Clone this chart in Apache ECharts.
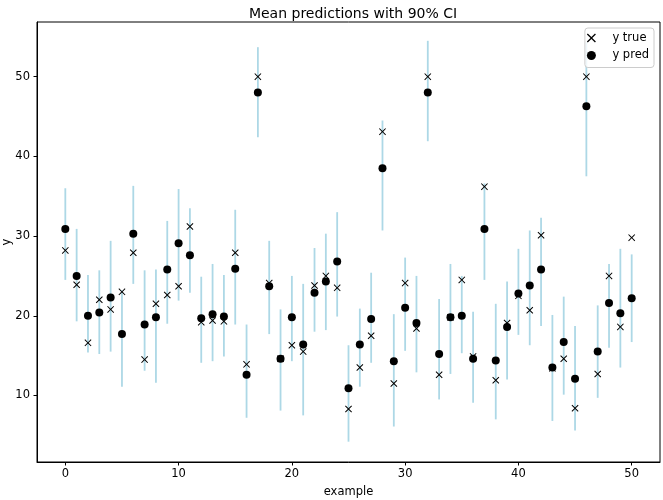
<!DOCTYPE html>
<html>
<head>
<meta charset="utf-8">
<script src="https://cdn.jsdelivr.net/npm/echarts@6/dist/echarts.min.js"></script>
<style>html,body{margin:0;padding:0;background:#fff}#c{width:663px;height:500px}</style>
</head>
<body>
<div id="c"></div>
<script>
const examples = Array.from({length: 51}, (_, i) => i);
const yTrue = [28.2,23.9,16.6,22.0,20.8,23.0,27.9,14.5,21.5,22.6,23.7,31.2,19.2,19.4,19.3,27.9,13.9,50.0,24.1,14.6,16.3,15.5,23.8,25.0,23.5,8.3,13.5,17.5,43.1,11.5,24.1,18.4,50.0,12.6,19.8,24.5,14.9,36.2,11.9,19.1,22.5,20.7,30.1,13.4,14.6,8.4,50.0,12.7,25.0,18.6,29.8];
const yPred = [30.9,25.0,20.0,20.4,22.3,17.7,30.3,18.9,19.8,25.8,29.1,27.6,19.7,20.2,19.9,25.9,12.6,48.0,23.7,14.6,19.8,16.4,22.9,24.3,26.8,10.9,16.4,19.6,38.5,14.3,21.0,19.1,48.0,15.2,19.8,20.0,14.6,30.9,14.4,18.6,22.8,23.8,25.8,13.5,16.7,12.1,46.3,15.5,21.6,20.3,22.2];
const ciLower = [24.5,19.3,15.4,15.2,15.5,11.1,24.0,13.1,11.6,19.0,21.9,22.9,14.1,14.3,14.9,18.9,7.2,42.4,17.7,8.1,14.3,7.5,18.0,18.2,19.9,4.2,11.1,14.1,30.7,6.1,15.6,12.9,41.9,9.5,12.7,15.3,9.1,24.5,7.0,12.0,17.6,16.3,18.7,6.8,10.1,5.6,37.5,9.7,16.0,13.5,16.7];
const ciUpper = [36.0,30.9,25.1,25.7,29.4,23.2,36.3,25.7,25.8,31.9,35.9,33.5,24.9,26.5,25.1,33.3,18.9,53.7,29.4,20.8,25.0,24.0,28.5,30.3,33.0,16.3,20.9,25.4,44.5,20.2,27.3,25.0,54.5,22.1,26.5,25.0,20.5,36.6,21.5,24.3,28.4,30.7,32.3,20.1,22.4,18.7,54.3,21.3,26.5,28.4,27.7];
const xTicks = [0,10,20,30,40,50];
const yTicks = [10,20,30,40,50];

const X_PATH = 'path://M1,0 L5,4 L9,0 L10,1 L6,5 L10,9 L9,10 L5,6 L1,10 L0,9 L4,5 L0,1 Z';
const FONT = 'DejaVu Sans';

const chart = echarts.init(document.getElementById('c'), null, {renderer: 'canvas'});
chart.setOption({
  animation: false,
  backgroundColor: '#fff',
  title: {
    text: 'Mean predictions with 90% CI',
    left: 348, textAlign: 'center', top: 2,
    textStyle: {fontFamily: FONT, fontSize: 14, fontWeight: 'normal', color: '#000'}
  },
  legend: {
    orient: 'vertical', right: 9, top: 28,
    padding: [3, 5, 5, 2], itemGap: 3.5, itemWidth: 26, itemHeight: 9,
    backgroundColor: 'rgba(255,255,255,0.8)', borderColor: '#cccccc', borderWidth: 1, borderRadius: 3,
    textStyle: {fontFamily: FONT, fontSize: 11.5, color: '#000', lineHeight: 14, padding: [0, 0, 0, 3]},
    data: [{name: 'y true', icon: X_PATH}, {name: 'y pred', icon: 'circle'}]
  },
  grid: {left: 37, right: 3, top: 22, bottom: 38, outerBoundsMode: 'none', containLabel: false,
         show: true, borderColor: '#000', borderWidth: 1, backgroundColor: 'transparent'},
  xAxis: {
    type: 'value', min: -2.5, max: 52.5,
    name: 'example', nameLocation: 'middle', nameGap: 24, nameMoveOverlap: false,
    nameTextStyle: {fontFamily: FONT, fontSize: 11.5, color: '#000'},
    axisLine: {show: true, onZero: false, lineStyle: {color: '#000', width: 1}},
    axisTick: {show: true, inside: false, length: 3.5, customValues: xTicks, lineStyle: {color: '#000'}},
    axisLabel: {customValues: xTicks, fontFamily: FONT, fontSize: 11.5, color: '#000', margin: 6},
    splitLine: {show: false}
  },
  yAxis: {
    type: 'value', min: 1.65, max: 56.86,
    name: 'y', nameLocation: 'middle', nameGap: 24, nameMoveOverlap: false,
    nameTextStyle: {fontFamily: FONT, fontSize: 11.5, color: '#000'},
    axisLine: {show: true, onZero: false, lineStyle: {color: '#000', width: 1}},
    axisTick: {show: true, inside: false, length: 3.5, customValues: yTicks, lineStyle: {color: '#000'}},
    axisLabel: {customValues: yTicks, fontFamily: FONT, fontSize: 11.5, color: '#000', margin: 7},
    splitLine: {show: false}
  },
  series: [
    {
      name: 'CI', type: 'custom', z: 2,
      data: examples.map((x, i) => [x, ciLower[i], ciUpper[i]]),
      encode: {x: 0, y: [1, 2]},
      renderItem: function (params, api) {
        const p1 = api.coord([api.value(0), api.value(1)]);
        const p2 = api.coord([api.value(0), api.value(2)]);
        return {
          type: 'line',
          shape: {x1: p1[0], y1: p1[1], x2: p2[0], y2: p2[1]},
          style: {stroke: '#add8e6', lineWidth: 1.8}
        };
      }
    },
    {
      name: 'y true', type: 'scatter', z: 3,
      symbol: X_PATH, symbolSize: 7,
      itemStyle: {color: '#000', opacity: 1},
      data: examples.map((x, i) => [x, yTrue[i]])
    },
    {
      name: 'y pred', type: 'scatter', z: 3,
      symbol: 'circle', symbolSize: 8,
      itemStyle: {color: '#000', opacity: 1},
      data: examples.map((x, i) => [x, yPred[i]])
    }
  ]
});
</script>
</body>
</html>
